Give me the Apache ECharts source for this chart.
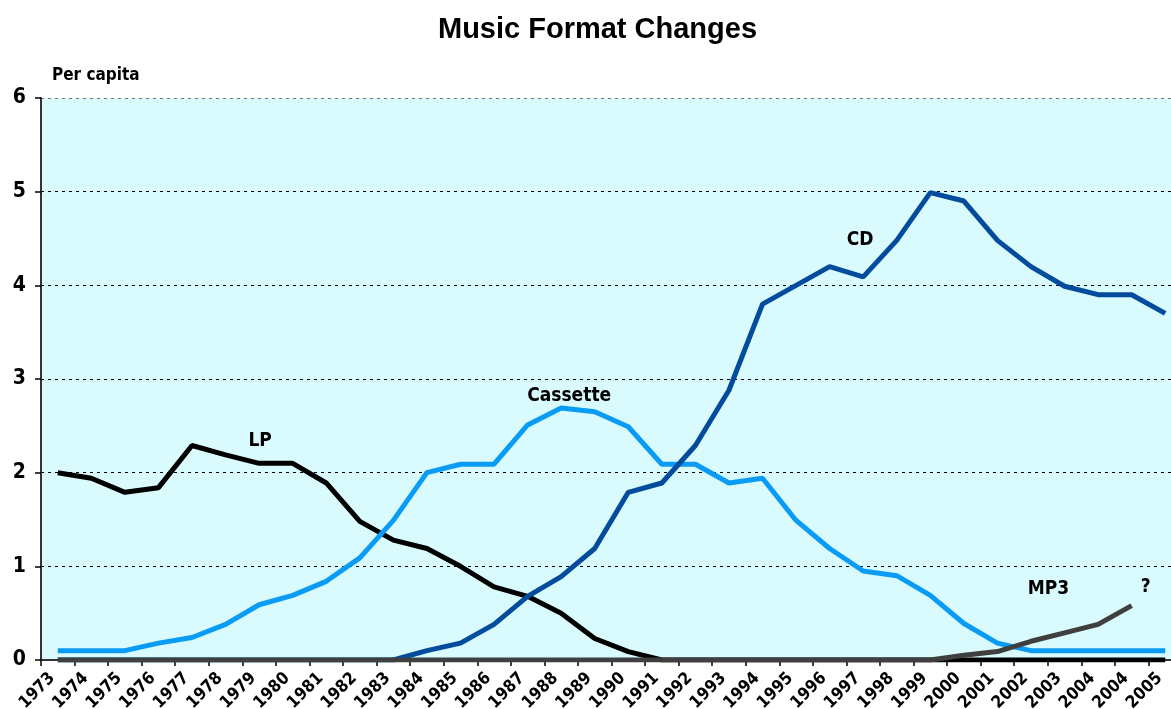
<!DOCTYPE html>
<html>
<head>
<meta charset="utf-8">
<script src="https://cdn.jsdelivr.net/npm/echarts@6/dist/echarts.min.js"></script>
<style>html,body{margin:0;padding:0;background:#fff}#c{width:1171px;height:709px}</style>
</head>
<body>
<div id="c"></div>
<script>
const categories = ['1973','1974','1975','1976','1977','1978','1979','1980','1981','1982','1983','1984','1985','1986','1987','1988','1989','1990','1991','1992','1993','1994','1995','1996','1997','1998','1999','2000','2001','2002','2003','2004','2004','2005'];
const lpValues = [2.0,1.94,1.79,1.84,2.29,2.19,2.1,2.1,1.89,1.48,1.28,1.19,1.0,0.78,0.68,0.5,0.23,0.09,0,0,0,0,0,0,0,0,0,0,0,0,0,0,0,0];
const cassetteValues = [0.1,0.1,0.1,0.18,0.24,0.38,0.59,0.69,0.84,1.09,1.49,2.0,2.09,2.09,2.51,2.69,2.65,2.49,2.09,2.09,1.89,1.94,1.49,1.19,0.95,0.9,0.69,0.39,0.18,0.1,0.1,0.1,0.1,0.1];
const cdValues = [0,0,0,0,0,0,0,0,0,0,0,0.1,0.18,0.38,0.68,0.89,1.19,1.79,1.89,2.29,2.88,3.8,4.0,4.2,4.09,4.48,4.99,4.9,4.48,4.2,3.99,3.9,3.9,3.7];
const mp3Values = [0,0,0,0,0,0,0,0,0,0,0,0,0,0,0,0,0,0,0,0,0,0,0,0,0,0,0,0.05,0.09,0.2,0.29,0.38,0.58,null];
const yTicks = [0,1,2,3,4,5,6];

const FONT = '"DejaVu Sans Condensed","Liberation Sans Narrow","Liberation Sans",sans-serif';
const lblStyle = {fontFamily: FONT, fontWeight: 'bold', fontSize: 19, color: '#000'};

function tag(text, x, y, dx) {
  return {coord: [x, y], name: text, symbol: 'circle', symbolSize: 2,
    itemStyle: {color: 'rgba(0,0,0,0)'},
    label: {show: true, position: 'inside', offset: [dx || 0, 0], formatter: text, ...lblStyle}};
}

const chart = echarts.init(document.getElementById('c'), null, {renderer: 'canvas'});
chart.setOption({
  animation: false,
  backgroundColor: '#ffffff',
  title: {
    text: 'Music Format Changes', left: 433, top: 10,
    textStyle: {fontFamily: '"Liberation Sans",Arial,sans-serif', fontWeight: 'bold', fontSize: 29, color: '#000'}
  },
  grid: {left: 41, top: 98, height: 562, width: 1141, show: true, backgroundColor: '#d9fbfd', borderWidth: 0,
    containLabel: false, outerBoundsMode: 'none'},
  xAxis: {
    type: 'category', data: categories, boundaryGap: true,
    axisLine: {lineStyle: {color: '#333', width: 2}},
    axisTick: {show: true, inside: false, length: 6, lineStyle: {color: '#000', width: 1.5}},
    axisLabel: {rotate: 45, interval: 0, margin: 10, padding: [0, 8, 0, 0], fontFamily: FONT, fontWeight: 'bold', fontSize: 17, color: '#000'},
    splitLine: {show: false}
  },
  yAxis: {
    type: 'value', min: 0, max: 6, interval: 1,
    name: 'Per capita', nameLocation: 'end', nameGap: 14,
    nameTextStyle: {fontFamily: FONT, fontWeight: 'bold', fontSize: 17, color: '#000', align: 'left', padding: [0, 0, 0, 11]},
    axisLine: {show: true, lineStyle: {color: '#333', width: 2}},
    axisTick: {show: true, length: 6, lineStyle: {color: '#000', width: 1.5}},
    axisLabel: {margin: 15, fontFamily: FONT, fontWeight: 'bold', fontSize: 21, color: '#000', formatter: v => yTicks.includes(v) ? String(v) : ''},
    splitLine: {show: true, lineStyle: {type: [3, 4], width: 1, color: ['#000','#000','#000','#000','#000','#000','#777']}}
  },
  series: [
    {name: 'LP', type: 'line', data: lpValues, symbol: 'none', lineStyle: {color: '#000', width: 5}, itemStyle: {color: '#000'},
      markPoint: {data: [tag('LP', 6, 2.34, 1)]}},
    {name: 'Cassette', type: 'line', data: cassetteValues, symbol: 'none', lineStyle: {color: '#0a9cf5', width: 5}, itemStyle: {color: '#0a9cf5'},
      markPoint: {data: [tag('Cassette', 15, 2.82, 8)]}},
    {name: 'CD', type: 'line', data: cdValues, symbol: 'none', lineStyle: {color: '#034b9c', width: 5}, itemStyle: {color: '#034b9c'},
      markPoint: {data: [tag('CD', 24, 4.48, -3)]}},
    {name: 'MP3', type: 'line', data: mp3Values, symbol: 'none', lineStyle: {color: '#3f3f3f', width: 5}, itemStyle: {color: '#3f3f3f'},
      markPoint: {data: [tag('MP3', 30, 0.76, -16), tag('?', 32, 0.78, 14)]}}
  ]
});
</script>
</body>
</html>
